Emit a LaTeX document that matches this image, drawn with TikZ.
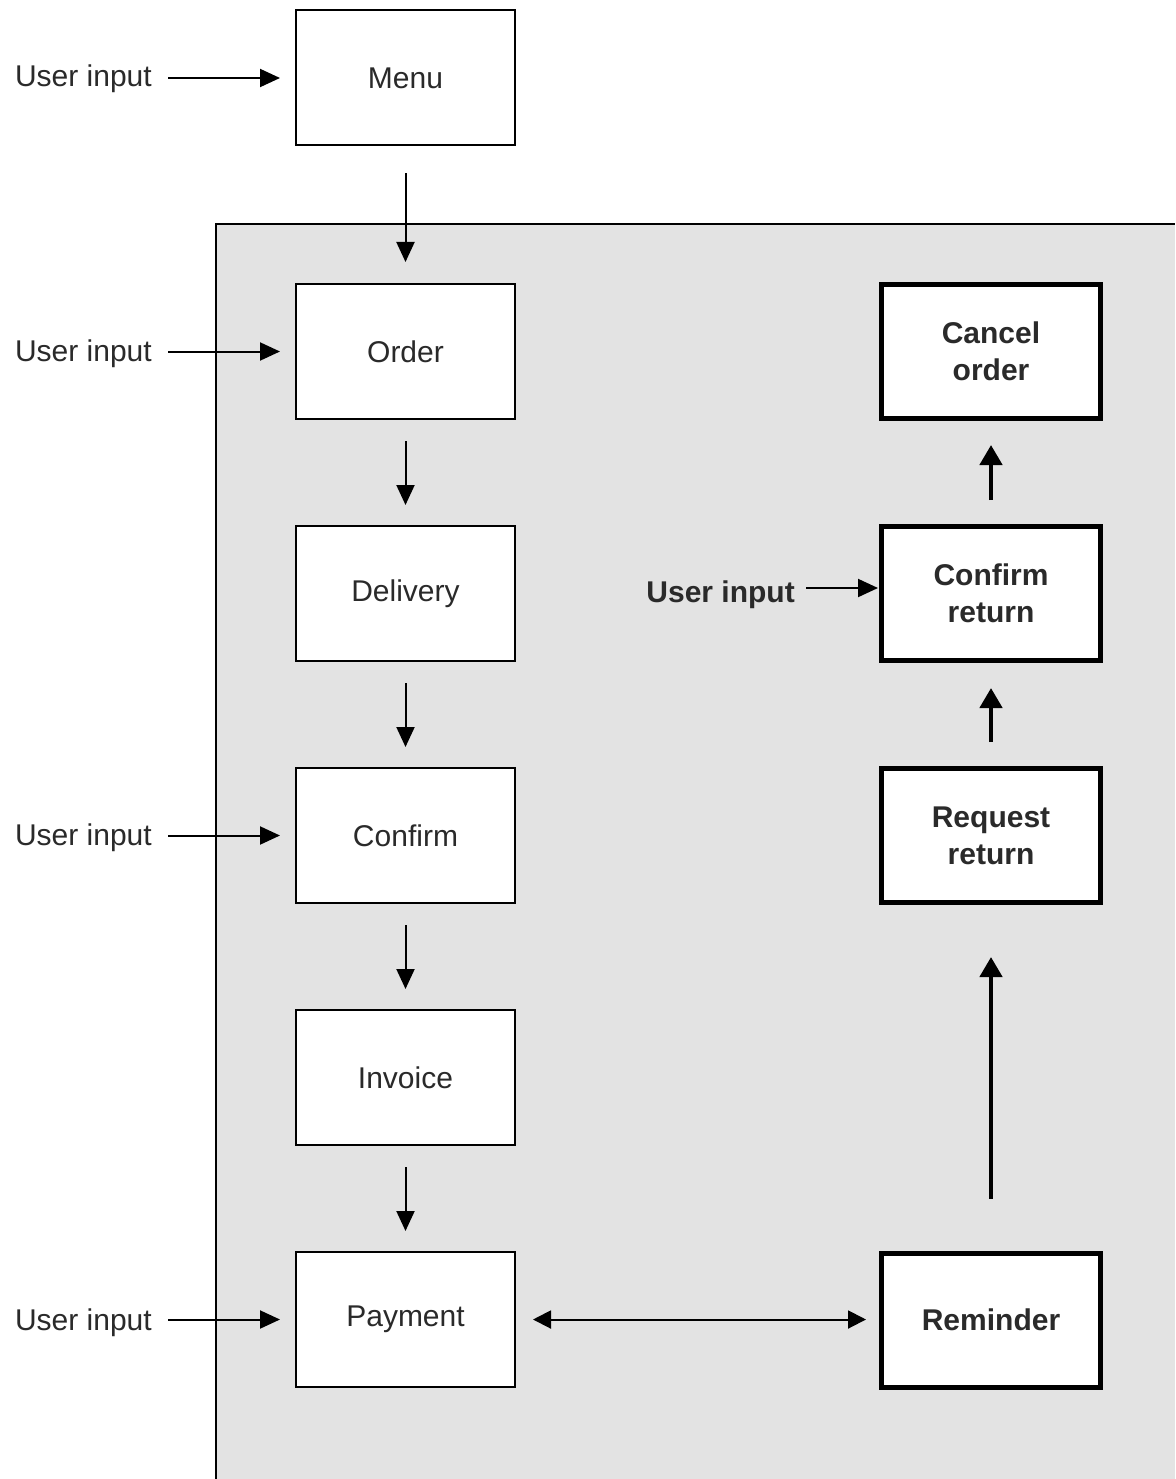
\documentclass[tikz,border=0pt]{standalone}
\usepackage{fontspec}
\setmainfont{Liberation Sans}
\usetikzlibrary{arrows.meta}
\definecolor{panelgray}{HTML}{E3E3E3}
\definecolor{inkgray}{HTML}{2A2A2A}
\begin{document}
\begin{tikzpicture}[x=1pt,y=-1pt,
  plainbox/.style={draw=black, line width=2pt, fill=white, minimum width=219pt, minimum height=135pt,
    inner sep=0pt, text=inkgray, font=\fontsize{30}{37}\selectfont},
  boldbox/.style={draw=black, line width=5pt, fill=white, minimum width=219pt, minimum height=134pt,
    inner sep=0pt, align=center, text=inkgray, font=\bfseries\fontsize{30}{37}\selectfont},
  inlabel/.style={inner sep=0pt, anchor=base east, text=inkgray, font=\fontsize{30}{37}\selectfont},
  thinarrow/.style={line width=2pt, -{Triangle[length=20pt,width=18pt]}},
  thickarrow/.style={line width=4.5pt, -{Triangle[length=20pt,width=22pt]}},
  bothways/.style={line width=2pt, {Triangle[length=18pt,width=18pt]}-{Triangle[length=18pt,width=18pt]}}
]
\useasboundingbox (0,0) rectangle (1175,1479);
\fill[white] (0,0) rectangle (1175,1479);

% shaded panel holding the order workflow
\fill[panelgray] (216,224) rectangle (1175,1479);
\draw[line width=2pt] (216,1479) -- (216,224) -- (1175,224);

% main column
\node[plainbox] (menu)     at (405.5,78)     {Menu};
\node[plainbox] (order)    at (405.5,351.5)  {Order};
\node[plainbox] (delivery) at (405.5,593.5)  {Delivery};
\node[plainbox] (confirm)  at (405.5,835.5)  {Confirm};
\node[plainbox] (invoice)  at (405.5,1077.5) {Invoice};
\node[plainbox] (payment)  at (405.5,1319.5) {Payment};

% return / cancellation column
\node[boldbox] (cancel)   at (991,351.5)  {Cancel\\order};
\node[boldbox] (confret)  at (991,593.5)  {Confirm\\return};
\node[boldbox] (reqret)   at (991,835.5)  {Request\\return};
\node[boldbox] (reminder) at (991,1320)   {Reminder};

% user input labels
\node[inlabel] (in1) at (152,87)   {User input};
\node[inlabel] (in2) at (152,361)  {User input};
\node[inlabel] (in3) at (152,845)  {User input};
\node[inlabel] (in4) at (152,1330) {User input};
\node[inlabel, font=\bfseries\fontsize{30}{37}\selectfont] (in5) at (795,602) {User input};

% inputs into the boxes
\draw[thinarrow, shorten <=16pt, shorten >=15pt] (in1.east |- menu.west)    -- (menu.west);
\draw[thinarrow, shorten <=16pt, shorten >=15pt] (in2.east |- order.west)   -- (order.west);
\draw[thinarrow, shorten <=16pt, shorten >=15pt] (in3.east |- confirm.west) -- (confirm.west);
\draw[thinarrow, shorten <=16pt, shorten >=15pt] (in4.east |- payment.west) -- (payment.west);
\draw[thinarrow, shorten <=11pt, shorten >=1pt] (in5.east |- 0,588) -- (confret.west |- 0,588);

% main flow
\draw[thinarrow, shorten <=27pt, shorten >=21pt] (menu.south)     -- (order.north);
\draw[thinarrow, shorten <=21pt, shorten >=20pt] (order.south)    -- (delivery.north);
\draw[thinarrow, shorten <=21pt, shorten >=20pt] (delivery.south) -- (confirm.north);
\draw[thinarrow, shorten <=21pt, shorten >=20pt] (confirm.south)  -- (invoice.north);
\draw[thinarrow, shorten <=21pt, shorten >=20pt] (invoice.south)  -- (payment.north);

% return flow
\draw[thickarrow, shorten <=52pt, shorten >=52pt] (reminder.north) -- (reqret.south);
\draw[thickarrow, shorten <=24pt, shorten >=25pt] (reqret.north)   -- (confret.south);
\draw[thickarrow, shorten <=24pt, shorten >=24pt] (confret.north)  -- (cancel.south);

% payment <-> reminder
\draw[bothways, shorten <=17pt, shorten >=13pt] (payment.east) -- (reminder.west |- payment.east);
\end{tikzpicture}
\end{document}
